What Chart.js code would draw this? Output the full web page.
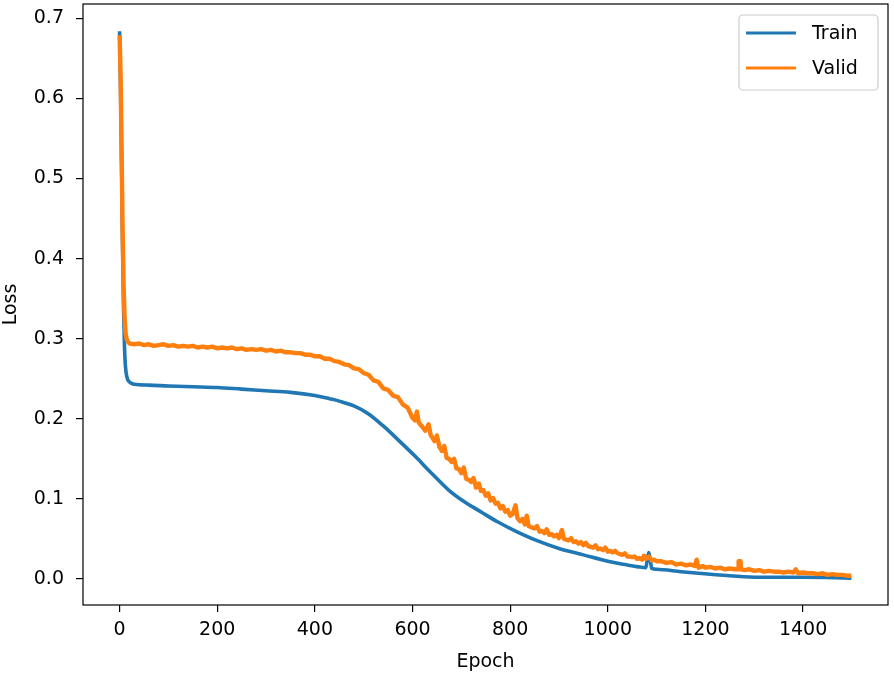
<!DOCTYPE html>
<html>
<head>
<meta charset="utf-8">
<script src="https://cdn.jsdelivr.net/npm/chart.js@4.4.1/dist/chart.umd.min.js"></script>
<style>
    html, body { margin: 0; padding: 0; background: #fff; }
    #wrap { width: 894px; height: 677px; }
</style>
</head>
<body>
<div id="wrap"><canvas id="loss-chart" width="894" height="677"></canvas></div>
<script>
// Curvas de pérdida (train / valid)

const seriesLabels = ['Train', 'Valid'];

const trainEpochs = [0, 2, 4, 6, 8, 10, 12, 15, 20, 30, 60, 100, 150, 200, 250, 300, 350, 400, 430, 450,
    480, 510, 540, 570, 604, 639, 674, 707, 742, 775, 810, 850, 900, 950, 1000, 1035,
    1063, 1078, 1081, 1084, 1087, 1090, 1100, 1150, 1186, 1250, 1309, 1400, 1499];
const trainLoss = [0.684, 0.61, 0.52, 0.42, 0.34, 0.29, 0.265, 0.252, 0.246, 0.243, 0.242, 0.241, 0.240, 0.239, 0.237, 0.235, 0.233, 0.229, 0.225, 0.222,
    0.216, 0.206, 0.191, 0.174, 0.154, 0.132, 0.111, 0.096, 0.083, 0.071, 0.060, 0.049, 0.038, 0.030, 0.022, 0.018,
    0.015, 0.014, 0.025, 0.033, 0.024, 0.013, 0.012, 0.009, 0.007, 0.004, 0.002, 0.002, 0.001];

const validEpochs = [0, 2, 4, 6, 8, 10, 12, 15, 20,
    30, 40, 50, 60, 70, 80, 90, 100, 110, 120, 130, 140, 150, 160, 170, 180, 190, 200,
    210, 220, 230, 240, 250, 260, 270, 280, 290, 300, 310, 320, 330, 340, 350, 360, 370, 380, 390, 400,
    410, 420, 430, 440, 450, 460, 470, 480, 490, 500, 510, 520, 530, 540, 550, 560, 570, 580, 590, 600,
    605, 609, 613, 620, 626, 633, 637, 645, 650, 655, 660, 665, 670, 675, 680, 685, 690, 695, 700,
    705, 710, 715, 720, 725, 730, 736, 740, 745, 750, 755, 760, 765, 770, 775, 780, 785, 790, 795, 800,
    805, 811, 815, 820, 825, 830, 834, 838, 845, 850, 855, 860, 865, 870, 875, 880, 885, 890, 895, 900,
    906, 910, 915, 920, 925, 930, 935, 940, 945, 950, 955, 960, 965, 970, 975, 980, 985, 990, 995, 1000,
    1005, 1010, 1015, 1020, 1025, 1030, 1035, 1040, 1045, 1050, 1055, 1060, 1065, 1070, 1074, 1078, 1084, 1090, 1095, 1100,
    1110, 1120, 1130, 1140, 1150, 1160, 1170, 1178, 1182, 1186, 1195, 1200, 1210, 1220, 1230, 1240, 1250, 1260,
    1267, 1268, 1272, 1273, 1280, 1290, 1300, 1310, 1320, 1330, 1340, 1350, 1360, 1370, 1380, 1385, 1390, 1400,
    1410, 1420, 1430, 1440, 1450, 1460, 1470, 1480, 1490, 1499];
const validLoss = [0.679, 0.630, 0.540, 0.440, 0.370, 0.330, 0.308, 0.298, 0.294,
    0.293, 0.294, 0.292, 0.293, 0.291, 0.292, 0.293, 0.291, 0.292, 0.290, 0.291, 0.290, 0.291, 0.289, 0.290, 0.289, 0.290, 0.288,
    0.289, 0.288, 0.289, 0.287, 0.288, 0.286, 0.287, 0.286, 0.287, 0.285, 0.286, 0.284, 0.285, 0.283, 0.283, 0.282, 0.282, 0.280, 0.280, 0.278,
    0.278, 0.275, 0.275, 0.272, 0.271, 0.268, 0.267, 0.263, 0.262, 0.257, 0.255, 0.248, 0.246, 0.238, 0.236, 0.229, 0.227, 0.218, 0.214, 0.201,
    0.198, 0.209, 0.195, 0.190, 0.185, 0.193, 0.180, 0.172, 0.179, 0.165, 0.160, 0.166, 0.151, 0.150, 0.146, 0.150, 0.138, 0.137, 0.132,
    0.139, 0.125, 0.124, 0.121, 0.126, 0.114, 0.119, 0.110, 0.111, 0.104, 0.107, 0.098, 0.101, 0.094, 0.095, 0.088, 0.091, 0.084, 0.086, 0.079,
    0.081, 0.092, 0.076, 0.072, 0.075, 0.068, 0.079, 0.066, 0.064, 0.063, 0.066, 0.059, 0.060, 0.057, 0.062, 0.055, 0.056, 0.053, 0.055, 0.051,
    0.061, 0.050, 0.049, 0.048, 0.051, 0.046, 0.047, 0.044, 0.046, 0.042, 0.045, 0.041, 0.040, 0.039, 0.042, 0.037, 0.038, 0.036, 0.039, 0.034,
    0.035, 0.033, 0.035, 0.032, 0.031, 0.030, 0.032, 0.028, 0.028, 0.027, 0.028, 0.025, 0.026, 0.024, 0.029, 0.025, 0.028, 0.023, 0.024, 0.022,
    0.022, 0.020, 0.021, 0.018, 0.019, 0.017, 0.018, 0.016, 0.024, 0.014, 0.016, 0.014, 0.015, 0.013, 0.014, 0.012, 0.013, 0.012,
    0.012, 0.022, 0.022, 0.012, 0.011, 0.012, 0.010, 0.011, 0.009, 0.010, 0.009, 0.009, 0.008, 0.009, 0.008, 0.012, 0.007, 0.008,
    0.007, 0.007, 0.006, 0.007, 0.005, 0.006, 0.005, 0.005, 0.004, 0.004];

const xTicks = [0, 200, 400, 600, 800, 1000, 1200, 1400];
const yTicks = [0.0, 0.1, 0.2, 0.3, 0.4, 0.5, 0.6, 0.7];

const colors = {
    train: '#1f77b4',
    valid: '#ff7f0e'
};

const FONT = '"DejaVu Sans", sans-serif';

function toPoints(xs, ys) {
    return xs.map((x, i) => ({ x: x, y: ys[i] }));
}

// Marco de los ejes y leyenda al estilo matplotlib
const framePlugin = {
    id: 'frame',
    afterDraw(chart) {
        const { ctx, chartArea: a } = chart;
        ctx.save();
        ctx.strokeStyle = '#000';
        ctx.lineWidth = 1.2;
        ctx.strokeRect(a.left, a.top, a.right - a.left, a.bottom - a.top);

        // leyenda
        const bx = 739, by = 15, bw = 139, bh = 75;
        ctx.beginPath();
        ctx.roundRect(bx, by, bw, bh, 4);
        ctx.fillStyle = 'rgba(255,255,255,0.8)';
        ctx.fill();
        ctx.strokeStyle = '#cccccc';
        ctx.lineWidth = 1.2;
        ctx.stroke();

        const rows = [33, 68];
        chart.data.datasets.forEach((ds, i) => {
            ctx.beginPath();
            ctx.moveTo(746, rows[i]);
            ctx.lineTo(796, rows[i]);
            ctx.strokeStyle = ds.borderColor;
            ctx.lineWidth = 3.2;
            ctx.stroke();
            ctx.fillStyle = '#000';
            ctx.font = '19px ' + FONT;
            ctx.textBaseline = 'middle';
            ctx.textAlign = 'left';
            ctx.fillText(ds.label, 812, rows[i] + 1);
        });
        ctx.restore();
    }
};

const ctx = document.getElementById('loss-chart');

new Chart(ctx, {
    type: 'line',
    data: {
        datasets: [
            {
                label: seriesLabels[0],
                data: toPoints(trainEpochs, trainLoss),
                borderColor: colors.train,
                borderWidth: 3.6,
                pointRadius: 0,
                cubicInterpolationMode: 'monotone',
                borderJoinStyle: 'round',
                order: 2
            },
            {
                label: seriesLabels[1],
                data: toPoints(validEpochs, validLoss),
                borderColor: colors.valid,
                borderWidth: 4.4,
                pointRadius: 0,
                tension: 0,
                borderJoinStyle: 'round',
                order: 1
            }
        ]
    },
    options: {
        responsive: false,
        animation: false,
        devicePixelRatio: 1,
        layout: {
            padding: { top: 4, right: 6, left: 0, bottom: 0 }
        },
        plugins: {
            legend: { display: false },
            tooltip: { enabled: false }
        },
        scales: {
            x: {
                type: 'linear',
                min: -75,
                max: 1574,
                afterBuildTicks: (scale) => {
                    scale.ticks = xTicks.map(v => ({ value: v }));
                },
                afterFit: (scale) => {
                    scale.height = 72;
                    scale.paddingLeft = 0;
                    scale.paddingRight = 0;
                },
                border: { display: false },
                grid: {
                    drawOnChartArea: false,
                    drawTicks: true,
                    tickLength: 7,
                    tickColor: '#000',
                    lineWidth: 1.2
                },
                ticks: {
                    color: '#000',
                    padding: 7,
                    maxRotation: 0,
                    font: { family: FONT, size: 19 },
                    callback: (v) => String(v)
                },
                title: {
                    display: true,
                    text: 'Epoch',
                    color: '#000',
                    font: { family: FONT, size: 19 },
                    padding: { top: 0, bottom: 4 }
                }
            },
            y: {
                type: 'linear',
                min: -0.0326,
                max: 0.718,
                afterBuildTicks: (scale) => {
                    scale.ticks = yTicks.map(v => ({ value: v }));
                },
                afterFit: (scale) => {
                    scale.width = 83;
                    scale.paddingTop = 0;
                    scale.paddingBottom = 0;
                },
                border: { display: false },
                grid: {
                    drawOnChartArea: false,
                    drawTicks: true,
                    tickLength: 7,
                    tickColor: '#000',
                    lineWidth: 1.2
                },
                ticks: {
                    color: '#000',
                    padding: 12,
                    font: { family: FONT, size: 19 },
                    callback: (v) => v.toFixed(1)
                },
                title: {
                    display: true,
                    text: 'Loss',
                    color: '#000',
                    font: { family: FONT, size: 19 },
                    padding: { top: 0, bottom: 0 }
                }
            }
        }
    },
    plugins: [framePlugin]
});
</script>
</body>
</html>
